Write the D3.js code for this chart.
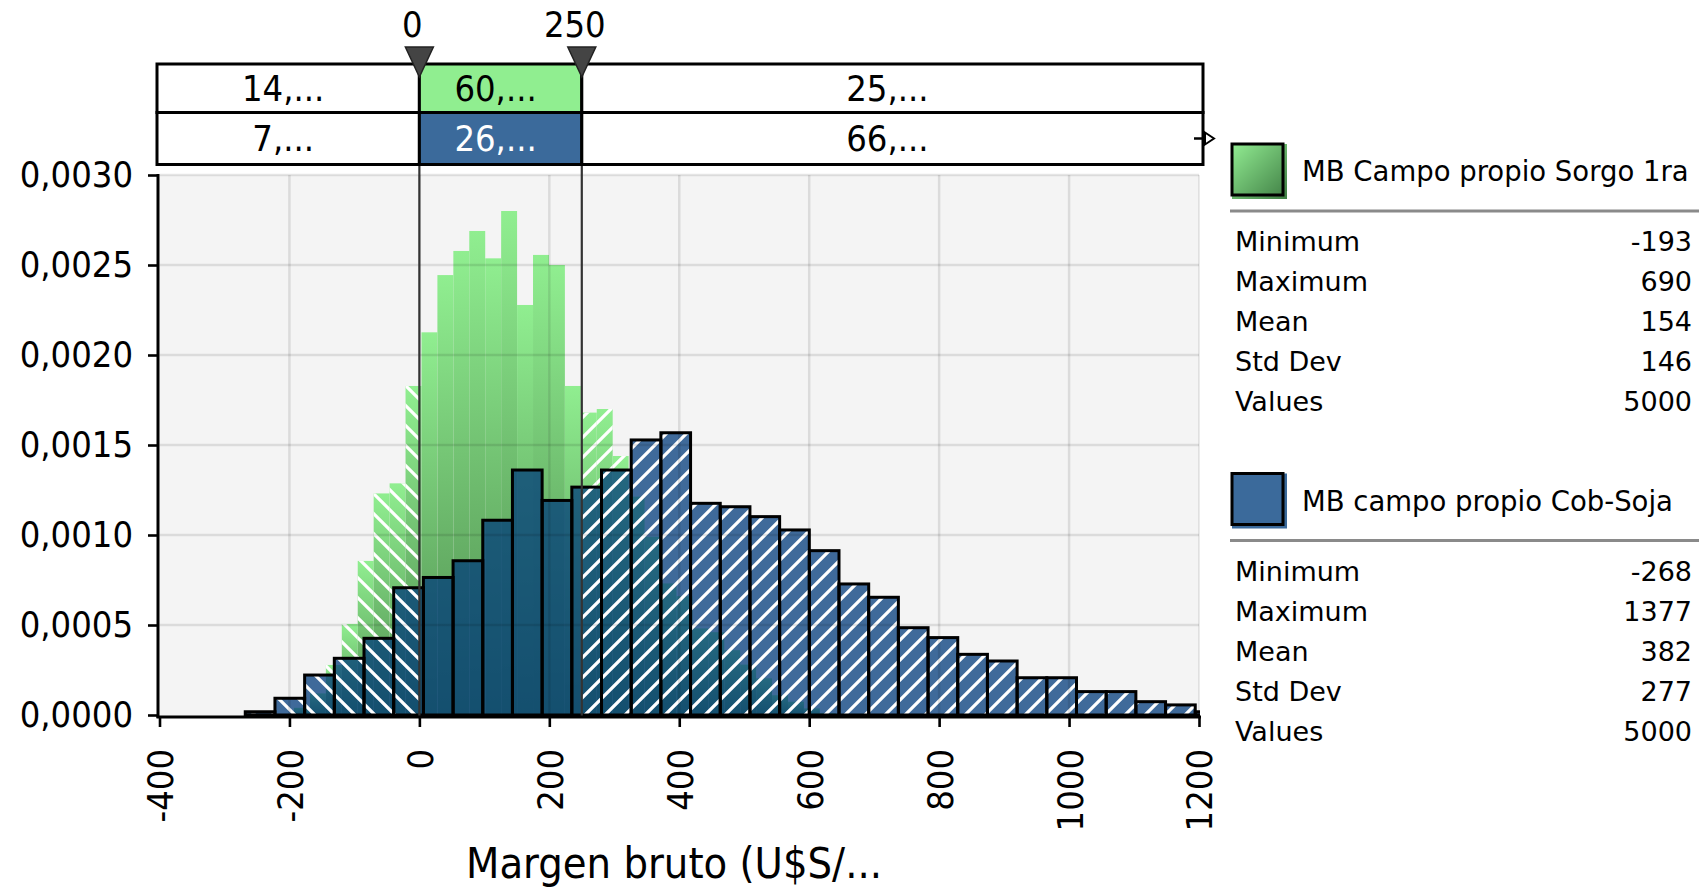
<!DOCTYPE html>
<html><head><meta charset="utf-8">
<script src="https://cdn.jsdelivr.net/npm/d3@7"></script>
<style>
html,body{margin:0;padding:0;background:#fff;}
svg{display:block;}
.cond{font-family:'DejaVu Sans Condensed','DejaVu Sans',sans-serif;font-stretch:condensed;}
.leg{font-family:'DejaVu Sans',Verdana,sans-serif;}
</style></head><body>
<svg id="chart" width="1699" height="888"></svg>
<script>
// ---------- data ----------
const delimiters = [0, 250];
const delimiterLabels = ["0", "250"];
const greenRange = [-193, 690];
const greenDensity = [0.00004,0.00012,0.000278,0.000506,0.000856,0.001231,0.001287,0.001828,
  0.002126,0.002444,0.002578,0.002689,0.002537,0.0028,0.002278,0.002556,0.0025,0.001828,
  0.00168,0.0017,0.001439,0.001213,0.00099,0.000731,0.00066,0.000481,0.00046,0.00036,
  0.00028,0.000204,0.00011,0.000074,0.000037,0.00001,0.000006,0.000006];
const blueRange = [-268, 1377];
const blueDensity = [0.000018,0.000093,0.000222,0.000315,0.000426,0.000707,0.000764,0.000857,
  0.001082,0.001361,0.001192,0.001266,0.001361,0.001528,0.001568,0.001176,0.001157,0.001102,
  0.001028,0.000913,0.000728,0.000654,0.000485,0.00043,0.000337,0.0003,0.000207,0.000207,
  0.00013,0.00013,0.000074,0.000056,0.000018,0.000012,0.000006,0.000006];
const xTicks = [-400,-200,0,200,400,600,800,1000,1200];
const xTickLabels = ["-400","-200","0","200","400","600","800","1000","1200"];
const yTicks = [0,0.0005,0.001,0.0015,0.002,0.0025,0.003];
const bandGreen = ["14,...","60,...","25,..."];
const bandBlue = ["7,...","26,...","66,..."];
const seriesNames = ["MB Campo propio Sorgo 1ra","MB campo propio Cob-Soja"];
const statLabels = ["Minimum","Maximum","Mean","Std Dev","Values"];
const statsGreen = ["-193","690","154","146","5000"];
const statsBlue = ["-268","1377","382","277","5000"];
const xTitle = "Margen bruto (U$S/...";

// ---------- scales ----------
const x = d3.scaleLinear().domain([-400, 1200]).range([159.5, 1199]);
const y = d3.scaleLinear().domain([0, 0.003]).range([715, 175]);
const svg = d3.select("#chart");
const defs = svg.append("defs");

function makeBins(range, dens){
  const w = (range[1]-range[0]) / dens.length;
  return dens.map((d,i)=>({x0: range[0]+i*w, x1: range[0]+(i+1)*w, d}));
}
const gBins = makeBins(greenRange, greenDensity);
const bBins = makeBins(blueRange, blueDensity);

// gradients & patterns
const gg = defs.append("linearGradient").attr("id","gGrad").attr("x1",0).attr("y1",0).attr("x2",0).attr("y2",1);
gg.append("stop").attr("offset","0%").attr("stop-color","#90ee90");
gg.append("stop").attr("offset","100%").attr("stop-color","#4e8c4e");
const lg = defs.append("linearGradient").attr("id","legG").attr("x1",0).attr("y1",0).attr("x2",1).attr("y2",1);
lg.append("stop").attr("offset","0%").attr("stop-color","#92ec92");
lg.append("stop").attr("offset","100%").attr("stop-color","#3f7e44");

function hatch(id, d){
  defs.append("pattern").attr("id",id).attr("patternUnits","userSpaceOnUse")
    .attr("width",20).attr("height",20)
    .append("path").attr("d",d).attr("stroke","#fff").attr("stroke-width",3.2).attr("fill","none");
}
hatch("hBack","M-5,-5L25,25M-5,15L5,25M15,-5L25,5");
hatch("hFwd","M-5,25L25,-5M-5,5L5,-5M15,25L25,15");

const plotL = x(-400), plotR = x(1200), plotT = y(0.003), plotB = y(0);
defs.append("clipPath").attr("id","cPlot").append("rect")
  .attr("x",plotL).attr("y",plotT-5).attr("width",plotR-plotL+1).attr("height",plotB-plotT+8);
defs.append("clipPath").attr("id","cLeft").append("rect")
  .attr("x",0).attr("y",0).attr("width",x(delimiters[0])).attr("height",888);
defs.append("clipPath").attr("id","cRight").append("rect")
  .attr("x",x(delimiters[1])).attr("y",0).attr("width",1699-x(delimiters[1])).attr("height",888);

// background
svg.append("rect").attr("x",plotL).attr("y",plotT).attr("width",plotR-plotL).attr("height",plotB-plotT+2).attr("fill","#f4f4f4");

const plot = svg.append("g").attr("clip-path","url(#cPlot)");
function bars(g, data, fill, cls){
  g.selectAll("rect."+cls).data(data).join("rect").attr("class",cls)
    .attr("x",d=>x(d.x0)).attr("width",d=>x(d.x1)-x(d.x0))
    .attr("y",d=>y(d.d)).attr("height",d=>y(0)-y(d.d)+1)
    .attr("fill",fill);
}
// green
bars(plot.append("g"), gBins, "url(#gGrad)", "gb");
bars(plot.append("g").attr("clip-path","url(#cLeft)"), gBins, "url(#hBack)", "gh");
bars(plot.append("g").attr("clip-path","url(#cRight)"), gBins, "url(#hFwd)", "gh");
// blue
bars(plot.append("g"), bBins, "rgba(0,58,123,0.74)", "bb");
bars(plot.append("g").attr("clip-path","url(#cLeft)"), bBins, "url(#hBack)", "bh");
bars(plot.append("g").attr("clip-path","url(#cRight)"), bBins, "url(#hFwd)", "bh");

// grid
const grid = svg.append("g");
grid.selectAll("line.vx").data(xTicks.slice(1,-1)).join("line")
  .attr("x1",d=>x(d)).attr("x2",d=>x(d)).attr("y1",plotT).attr("y2",plotB)
  .attr("stroke","rgba(0,0,0,0.1)").attr("stroke-width",2.5);
grid.selectAll("line.hy").data(yTicks.slice(1)).join("line")
  .attr("x1",plotL).attr("x2",plotR).attr("y1",d=>y(d)).attr("y2",d=>y(d))
  .attr("stroke","rgba(0,0,0,0.1)").attr("stroke-width",2.5);
svg.append("line").attr("x1",plotR).attr("x2",plotR).attr("y1",plotT).attr("y2",plotB)
  .attr("stroke","rgba(0,0,0,0.08)").attr("stroke-width",2);

// blue outlines
plot.append("g").selectAll("rect").data(bBins).join("rect")
  .attr("x",d=>x(d.x0)).attr("width",d=>x(d.x1)-x(d.x0))
  .attr("y",d=>y(d.d)).attr("height",d=>y(0)-y(d.d))
  .attr("fill","none").attr("stroke","#000").attr("stroke-width",3);

// delimiter lines
svg.selectAll("line.delim").data(delimiters).join("line")
  .attr("x1",d=>x(d)).attr("x2",d=>x(d)).attr("y1",112).attr("y2",plotB+1)
  .attr("stroke","#333").attr("stroke-width",2.2);

// axes
const loc = d3.formatLocale({decimal:",",thousands:".",grouping:[3],currency:["",""],minus:"-"});
const yAxis = svg.append("g").attr("class","cond").attr("transform","translate(158,0)")
  .call(d3.axisLeft(y).tickValues(yTicks).tickFormat(loc.format(".4f")).tickSize(10).tickSizeOuter(0).tickPadding(15));
yAxis.select(".domain").remove();
yAxis.selectAll(".tick line").attr("stroke","#000").attr("stroke-width",2.6);
yAxis.selectAll("text").attr("font-size",36).attr("fill","#000").attr("font-family",null);
svg.append("line").attr("x1",158).attr("x2",158).attr("y1",plotT-1).attr("y2",plotB+3).attr("stroke","#000").attr("stroke-width",3);

const xAxis = svg.append("g").attr("class","cond").attr("transform","translate(0,717)")
  .call(d3.axisBottom(x).tickValues(xTicks).tickFormat((d,i)=>xTickLabels[i]).tickSize(10).tickSizeOuter(0));
xAxis.select(".domain").remove();
xAxis.selectAll(".tick line").attr("stroke","#000").attr("stroke-width",2.6);
xAxis.selectAll("text").attr("font-size",36).attr("fill","#000").attr("font-family",null)
  .attr("transform","rotate(-90)").attr("y",0).attr("x",-32).attr("dy","0.36em").style("text-anchor","end");
svg.append("line").attr("x1",156.5).attr("x2",plotR+2).attr("y1",717).attr("y2",717).attr("stroke","#000").attr("stroke-width",3);

svg.append("text").attr("class","cond").attr("x",674).attr("y",878).attr("text-anchor","middle")
  .attr("font-size",43).attr("fill","#000").text(xTitle);

// ---------- top band ----------
const bandL = 157, bandR = 1203, rowY = [64, 112.5, 164.5];
const cellEdges = [bandL, x(delimiters[0]), x(delimiters[1]), bandR];
const band = svg.append("g").attr("class","cond");
[bandGreen, bandBlue].forEach((vals, r)=>{
  const midFill = r===0 ? "#90ee90" : "#3b6a9b";
  vals.forEach((v,i)=>{
    band.append("rect").attr("x",cellEdges[i]).attr("y",rowY[r]).attr("width",cellEdges[i+1]-cellEdges[i])
      .attr("height",rowY[r+1]-rowY[r]).attr("fill", i===1 ? midFill : "#fff")
      .attr("stroke","#000").attr("stroke-width",3);
  });
});
[bandGreen, bandBlue].forEach((vals, r)=>{
  vals.forEach((v,i)=>{
    band.append("text").attr("x",(cellEdges[i]+cellEdges[i+1])/2 - 5).attr("y",(rowY[r]+rowY[r+1])/2)
      .attr("dy","0.36em").attr("text-anchor","middle").attr("font-size",36)
      .attr("fill", (r===1 && i===1) ? "#fff" : "#000").text(v);
  });
});
// arrow at right
svg.append("line").attr("x1",1194).attr("x2",1206).attr("y1",138.5).attr("y2",138.5).attr("stroke","#000").attr("stroke-width",2.5);
svg.append("path").attr("d","M1205,132.5L1214,138.5L1205,144.5Z").attr("fill","#fff").attr("stroke","#000").attr("stroke-width",2);

// markers
svg.selectAll("path.mk").data(delimiters).join("path")
  .attr("d",d=>`M${x(d)-14},47L${x(d)+14},47L${x(d)},77Z`).attr("fill","#444").attr("stroke","#222").attr("stroke-width",1.5);
svg.selectAll("text.mk").data(delimiters).join("text").attr("class","cond")
  .attr("x",d=>x(d)-7).attr("y",24).attr("dy","0.36em").attr("text-anchor","middle")
  .attr("font-size",36).attr("fill","#000").text((d,i)=>delimiterLabels[i]);

// ---------- legend ----------
const leg = svg.append("g").attr("class","leg");
function legendBlock(top, name, fill, stats){
  leg.append("rect").attr("x",1232).attr("y",top).attr("width",55).attr("height",55).attr("fill",fill);
  leg.append("rect").attr("x",1232).attr("y",top).attr("width",51).attr("height",51)
    .attr("fill","none").attr("stroke","#000").attr("stroke-width",3);
  leg.append("text").attr("x",1302).attr("y",top+37).attr("font-size",27.5).attr("fill","#000").text(name);
  leg.append("line").attr("x1",1230).attr("x2",1699).attr("y1",top+67).attr("y2",top+67)
    .attr("stroke","#8a8a8a").attr("stroke-width",3);
  statLabels.forEach((l,i)=>{
    leg.append("text").attr("x",1235).attr("y",top+107+i*40.1).attr("font-size",27).attr("fill","#000").text(l);
    leg.append("text").attr("x",1692).attr("y",top+107+i*40.1).attr("font-size",27).attr("fill","#000")
      .attr("text-anchor","end").text(stats[i]);
  });
}
legendBlock(144, seriesNames[0], "url(#legG)", statsGreen);
legendBlock(473.5, seriesNames[1], "#3b6a9b", statsBlue);
</script>
</body></html>
